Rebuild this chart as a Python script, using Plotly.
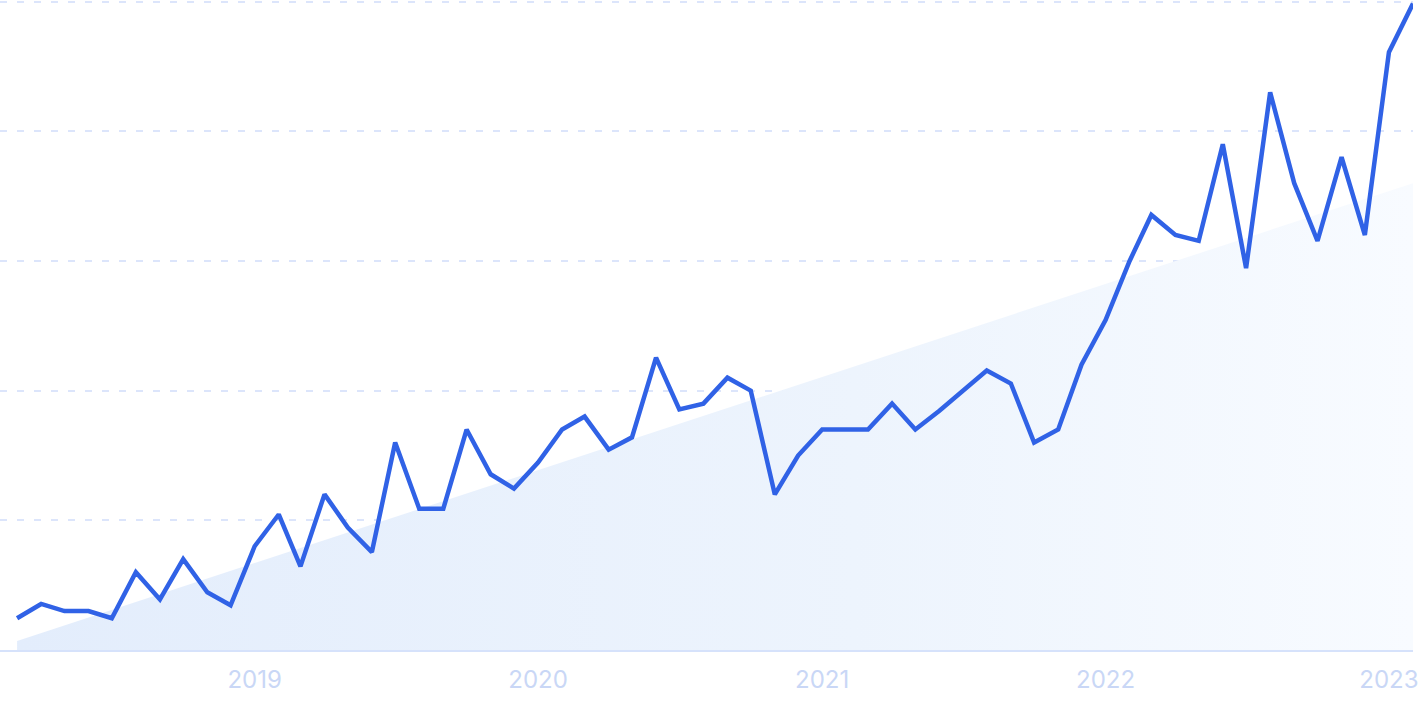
import plotly.graph_objects as go

months = [
    "2018-03-01","2018-04-01","2018-05-01","2018-06-01","2018-07-01","2018-08-01","2018-09-01","2018-10-01","2018-11-01","2018-12-01",
    "2019-01-01","2019-02-01","2019-03-01","2019-04-01","2019-05-01","2019-06-01","2019-07-01","2019-08-01","2019-09-01","2019-10-01","2019-11-01","2019-12-01",
    "2020-01-01","2020-02-01","2020-03-01","2020-04-01","2020-05-01","2020-06-01","2020-07-01","2020-08-01","2020-09-01","2020-10-01","2020-11-01","2020-12-01",
    "2021-01-01","2021-02-01","2021-03-01","2021-04-01","2021-05-01","2021-06-01","2021-07-01","2021-08-01","2021-09-01","2021-10-01","2021-11-01","2021-12-01",
    "2022-01-01","2022-02-01","2022-03-01","2022-04-01","2022-05-01","2022-06-01","2022-07-01","2022-08-01","2022-09-01","2022-10-01","2022-11-01","2022-12-01",
    "2023-01-01","2023-02-01",
]

values = [
    4.9, 7.1, 6.0, 6.0, 4.9, 12.0, 7.8, 14.0, 8.9, 6.9,
    16.0, 20.9, 12.9, 24.0, 18.9, 15.1, 32.0, 21.8, 21.8, 34.0, 27.1, 24.9,
    28.9, 34.0, 36.0, 30.9, 32.8, 45.1, 37.1, 38.0, 42.0, 40.0, 24.0, 30.0,
    34.0, 34.0, 34.0, 38.0, 34.0, 36.9, 40.0, 43.1, 41.1, 32.0, 34.0, 44.0,
    50.9, 60.0, 67.1, 64.0, 63.1, 78.0, 58.9, 86.0, 72.0, 63.1, 76.0, 64.0,
    92.2, 99.7,
]

trend_x = ["2018-03-01", "2023-02-01"]
trend_y = [1.4, 72.0]

year_ticks = ["2019-01-01", "2020-01-01", "2021-01-01", "2022-01-01", "2023-01-01"]
year_labels = ["2019", "2020", "2021", "2022", "2023"]

fig = go.Figure()

fig.add_trace(go.Scatter(
    x=trend_x, y=trend_y, mode="lines",
    line=dict(width=0, color="rgba(0,0,0,0)"),
    fill="tozeroy",
    fillgradient=dict(type="horizontal",
                      colorscale=[[0, "#E3EDFC"], [0.6, "#EDF4FD"], [1, "#F8FBFF"]]),
    hoverinfo="skip", showlegend=False,
))

fig.add_trace(go.Scatter(
    x=months, y=values, mode="lines",
    line=dict(color="#3062E6", width=4.5, shape="linear"),
    showlegend=False,
))

fig.update_layout(
    width=1425, height=712,
    margin=dict(l=0, r=12, t=0, b=62),
    paper_bgcolor="white", plot_bgcolor="white",
    font=dict(family="Inter", color="#CCD9F7"),
)

fig.update_xaxes(
    type="date",
    range=["2018-02-07", "2023-02-01"],
    tickvals=year_ticks, ticktext=year_labels,
    tickfont=dict(size=24, color="#C9D7F6", family="Inter"),
    showgrid=False, zeroline=False,
    showline=True, linecolor="#D6E2FB", linewidth=1.5,
    ticks="outside", ticklen=7, tickcolor="rgba(0,0,0,0)",
)

fig.update_yaxes(
    range=[0, 100.25],
    tickvals=[20, 40, 60, 80, 100],
    showticklabels=False,
    showgrid=True, gridcolor="#DCE5FB", gridwidth=1.5, griddash="7px,10px",
    zeroline=False, showline=False,
)

fig.write_html("out.html", config={"displayModeBar": False},
               post_script="document.body.style.margin='0';")
